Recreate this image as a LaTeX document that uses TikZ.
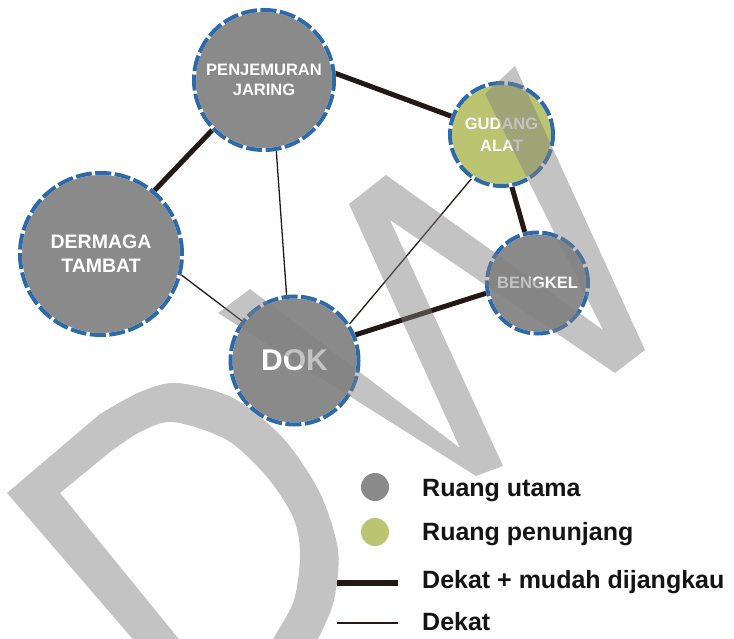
\documentclass[tikz,border=0pt]{standalone}
\usepackage{fontspec}
\setmainfont{Liberation Sans}
\usetikzlibrary{backgrounds}
\definecolor{roomgray}{RGB}{138,138,138}
\definecolor{leafgreen}{RGB}{187,196,112}
\definecolor{ringblue}{RGB}{46,105,168}
\definecolor{edgeink}{RGB}{35,24,21}
\definecolor{inkblack}{RGB}{20,20,20}
\definecolor{markgray}{RGB}{128,128,128}
\begin{document}
\begin{tikzpicture}[x=1pt,y=-1pt,
  room/.style={circle, inner sep=0pt, outer sep=0pt, align=center, text=white,
    preaction={fill=#1, draw=white, line width=4pt, solid},
    draw=ringblue, line width=4pt, dash pattern=on 16pt off 3.5pt},
  room/.default=roomgray,
  keydot/.style={circle, inner sep=0pt, minimum size=28pt},
  keytext/.style={anchor=base west, inner sep=0pt, text=inkblack,
    font=\fontsize{25}{30}\selectfont\bfseries},
  strong/.style={draw=edgeink, line width=5pt},
  weak/.style={draw=edgeink, line width=1.3pt},
  wmfill/.style={fill=markgray, fill opacity=0.47}
]
\useasboundingbox (0,0) rectangle (734,639);

% rooms
\node[room, minimum size=140pt, font=\fontsize{16.5}{20}\selectfont\bfseries]
  (pj) at (264,80) {PENJEMURAN\\JARING};
\node[room=leafgreen, minimum size=103pt, font=\fontsize{16.5}{22}\selectfont\bfseries]
  (ga) at (501.5,134.5) {GUDANG\\ALAT};
\node[room, minimum size=101pt, font=\fontsize{16.5}{20}\selectfont\bfseries]
  (bk) at (537.5,283) {BENGKEL};
\node[room, minimum size=128pt, font=\fontsize{30}{34}\selectfont\bfseries]
  (dok) at (294.5,360.5) {DOK};
\node[room, minimum size=162pt, font=\fontsize{19.5}{24}\selectfont\bfseries]
  (dt) at (101,254) {DERMAGA\\TAMBAT};

% relations
\begin{scope}[on background layer]
  \draw[strong] (pj.6) -- (ga.160);
  \draw[strong] (pj.224) -- (dt.50);
  \draw[strong] (ga.-79) -- (bk.104);
  \draw[strong] (bk.191) -- (dok.23);
  \draw[weak] (pj.-80) -- (dok.97);
  \draw[weak] (dt.-14) -- (dok.143);
  \draw[weak] (ga.236) -- (dok.33);
\end{scope}

% legend
\node[keydot, fill=roomgray] (k1) at (375,487) {};
\node[keydot, fill=leafgreen] (k2) at (375,532) {};
\coordinate (s1) at (337,583); \coordinate (e1) at (398,583);
\coordinate (s2) at (337,623); \coordinate (e2) at (398,623);
\draw[strong, line width=6pt] (s1) -- (e1);
\draw[weak] (s2) -- (e2);
\node[keytext] (t1) at (422,496) {Ruang utama};
\node[keytext] (t2) at (422,540) {Ruang penunjang};
\node[keytext] (t3) at (422,588) {Dekat + mudah dijangkau};
\node[keytext] (t4) at (422,630) {Dekat};

% DW mark laid over the plan
\begin{scope}
  \clip (0,0) rectangle (734,639);
  \fill[wmfill] (218,313) -- (250,289) -- (460,448) -- (349,204) -- (386,175)
    -- (603,330) -- (485,94) -- (515,66) -- (645,350) -- (615,373)
    -- (390,220) -- (503,466) -- (476,476) -- cycle;
  \fill[wmfill, even odd rule]
    (7,493) -- plot[smooth] coordinates {(100,414) (140,392) (177,383) (233,398)
      (283,438) (320,493) (338,550) (334,600) (318,639) (295,680)}
    -- (168,680) -- cycle
    (60,493) -- plot[smooth] coordinates {(110,452) (140,432) (173,422) (227,440)
      (267,477) (293,517) (300,553) (294,600) (273,639) (250,675)}
    -- (208,675) -- cycle;
\end{scope}
\end{tikzpicture}
\end{document}
